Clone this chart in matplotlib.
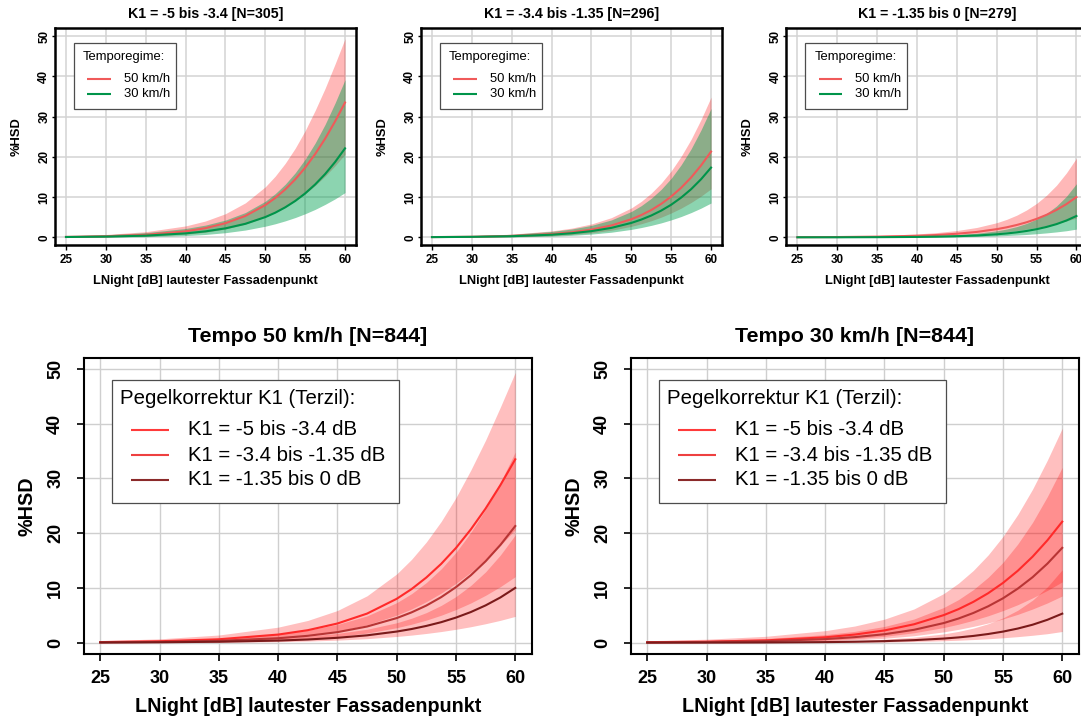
import matplotlib
matplotlib.use("Agg")
import matplotlib.pyplot as plt
from matplotlib.patches import Rectangle

plt.rcParams["font.family"] = ["Liberation Sans", "DejaVu Sans"]

lnight = [25, 30, 35, 40, 42.5, 45, 47.5, 50, 51.25, 52.5, 53.75, 55, 56.25, 57.5, 58.75, 60]

# %HSD, Tempo 50 km/h -- estimate, lower and upper band per K1 tercile
hsd50_a = [0.11, 0.26, 0.62, 1.48, 2.28, 3.50, 5.31, 8.01, 9.78, 11.90, 14.39, 17.30, 20.68, 24.50, 28.79, 33.49]
hsd50_a_lo = [0.03, 0.10, 0.28, 0.77, 1.27, 2.06, 3.26, 5.02, 6.15, 7.49, 9.05, 10.83, 12.87, 15.20, 17.78, 20.66]
hsd50_a_hi = [0.35, 0.70, 1.40, 2.83, 4.06, 5.87, 8.56, 12.55, 15.21, 18.39, 22.13, 26.50, 31.52, 37.00, 43.06, 49.35]

hsd50_b = [0.06, 0.14, 0.34, 0.81, 1.25, 1.92, 2.95, 4.49, 5.53, 6.78, 8.31, 10.14, 12.31, 14.87, 17.86, 21.30]
hsd50_b_lo = [0.02, 0.05, 0.15, 0.41, 0.68, 1.11, 1.76, 2.73, 3.37, 4.12, 5.01, 6.05, 7.25, 8.65, 10.24, 12.06]
hsd50_b_hi = [0.20, 0.40, 0.79, 1.59, 2.28, 3.32, 4.89, 7.30, 8.94, 10.98, 13.47, 16.49, 20.13, 24.36, 29.30, 34.82]

hsd50_c = [0.03, 0.07, 0.17, 0.38, 0.58, 0.89, 1.34, 2.03, 2.49, 3.06, 3.74, 4.58, 5.59, 6.81, 8.26, 10.00]
hsd50_c_lo = [0.01, 0.02, 0.06, 0.18, 0.29, 0.46, 0.73, 1.13, 1.38, 1.68, 2.03, 2.44, 2.91, 3.46, 4.08, 4.80]
hsd50_c_hi = [0.13, 0.24, 0.44, 0.84, 1.18, 1.69, 2.45, 3.63, 4.46, 5.49, 6.80, 8.42, 10.45, 12.94, 16.02, 19.67]

# %HSD, Tempo 30 km/h
hsd30_a = [0.08, 0.18, 0.42, 0.98, 1.48, 2.23, 3.36, 5.03, 6.12, 7.45, 9.03, 10.91, 13.13, 15.71, 18.70, 22.10]
hsd30_a_lo = [0.02, 0.05, 0.15, 0.43, 0.71, 1.15, 1.81, 2.76, 3.37, 4.09, 4.91, 5.86, 6.94, 8.18, 9.55, 11.11]
hsd30_a_hi = [0.35, 0.63, 1.16, 2.19, 3.04, 4.29, 6.16, 8.96, 10.86, 13.19, 16.02, 19.40, 23.41, 28.05, 33.36, 39.17]

hsd30_b = [0.05, 0.12, 0.28, 0.65, 1.01, 1.54, 2.35, 3.58, 4.41, 5.42, 6.64, 8.10, 9.87, 11.96, 14.44, 17.32]
hsd30_b_lo = [0.01, 0.03, 0.10, 0.29, 0.49, 0.80, 1.27, 1.97, 2.43, 2.97, 3.59, 4.33, 5.17, 6.15, 7.26, 8.53]
hsd30_b_hi = [0.21, 0.40, 0.75, 1.46, 2.06, 2.96, 4.32, 6.42, 7.87, 9.69, 11.93, 14.66, 18.02, 21.98, 26.70, 32.02]

hsd30_c = [0.01, 0.01, 0.04, 0.10, 0.17, 0.28, 0.46, 0.75, 0.96, 1.23, 1.58, 2.02, 2.58, 3.28, 4.18, 5.30]
hsd30_c_lo = [0.00, 0.00, 0.01, 0.04, 0.07, 0.12, 0.21, 0.35, 0.45, 0.57, 0.71, 0.89, 1.10, 1.35, 1.64, 2.04]
hsd30_c_hi = [0.03, 0.06, 0.13, 0.28, 0.42, 0.64, 1.00, 1.60, 2.06, 2.66, 3.46, 4.52, 5.93, 7.77, 10.20, 13.32]

k1_titles = ["K1 = -5 bis -3.4 [N=305]", "K1 = -3.4 bis -1.35 [N=296]", "K1 = -1.35 bis 0 [N=279]"]
k1_labels = ["K1 = -5 bis -3.4 dB", "K1 = -3.4 bis -1.35 dB", "K1 = -1.35 bis 0 dB"]
tempo_titles = ["Tempo 50 km/h [N=844]", "Tempo 30 km/h [N=844]"]
tempo_labels = ["50 km/h", "30 km/h"]

xlabel = "LNight [dB] lautester Fassadenpunkt"
ylabel = "%HSD"

tempo50 = [(hsd50_a, hsd50_a_lo, hsd50_a_hi), (hsd50_b, hsd50_b_lo, hsd50_b_hi), (hsd50_c, hsd50_c_lo, hsd50_c_hi)]
tempo30 = [(hsd30_a, hsd30_a_lo, hsd30_a_hi), (hsd30_b, hsd30_b_lo, hsd30_b_hi), (hsd30_c, hsd30_c_lo, hsd30_c_hi)]

RED_LINE = "#f05a5a"
GREEN_LINE = "#00944a"
K1_LINES = ["#ff2a2a", "#b83535", "#7a1a1a"]
K1_LEGEND = ["#ff3a3a", "#ee4040", "#8b2a2a"]


def style_axes(ax, small):
    ax.set_xlim(23.6, 61.4)
    ax.set_ylim(-2, 52)
    ax.set_xticks(range(25, 61, 5))
    ax.set_yticks(range(0, 51, 10))
    ax.set_axisbelow(True)
    if small:
        ax.grid(True, color="#d3d3d3", lw=1.1)
        ax.tick_params(axis="x", labelsize=8.4, length=3.5, width=1.0, pad=3)
        ax.tick_params(axis="y", labelsize=8.4, length=2, width=1.0, pad=1.3, labelrotation=90)
        lab_fs, spine_w = 9.3, 1.8
        xlab_y, ylab_x = -0.164, -0.127
    else:
        ax.grid(True, color="#cfcfcf", lw=1.0)
        ax.tick_params(axis="x", labelsize=13, length=5, width=1.2, pad=6.5)
        ax.tick_params(axis="y", labelsize=13, length=5, width=1.2, pad=9, labelrotation=90)
        lab_fs, spine_w = 14.2, 1.5
        xlab_y, ylab_x = -0.18, -0.127
    for lab in ax.get_xticklabels() + ax.get_yticklabels():
        lab.set_fontweight("bold")
    for lab in ax.get_yticklabels():
        lab.set_va("center")
    for sp in ax.spines.values():
        sp.set_linewidth(spine_w)
        sp.set_color("black")
    ax.set_xlabel(xlabel, fontsize=lab_fs, fontweight="bold")
    ax.set_ylabel(ylabel, fontsize=lab_fs, fontweight="bold")
    ax.xaxis.label.set_va("center")
    ax.yaxis.label.set_va("center")
    ax.xaxis.set_label_coords(0.5, xlab_y)
    ax.yaxis.set_label_coords(ylab_x, 0.5)


def draw_legend(ax, box, title, title_xy, rows_y, line_x, text_x, labels, colors, fs, lw):
    ax.add_patch(Rectangle((box[0], box[1]), box[2], box[3], transform=ax.transAxes,
                           facecolor="white", edgecolor="#4d4d4d", lw=0.9, zorder=5))
    ax.text(title_xy[0], title_xy[1], title, transform=ax.transAxes, fontsize=fs,
            ha="left", va="center", zorder=6)
    for y, lab, col in zip(rows_y, labels, colors):
        ax.plot(line_x, [y, y], transform=ax.transAxes, color=col, lw=lw,
                solid_capstyle="butt", zorder=6)
        ax.text(text_x, y, lab, transform=ax.transAxes, fontsize=fs,
                ha="left", va="center", zorder=6)


fig = plt.figure(figsize=(10.81, 7.2), dpi=100)

# top row: one panel per K1 tercile, 50 vs 30 km/h
top_lefts = [0.0507, 0.3893, 0.7273]
for i in range(3):
    ax = fig.add_axes([top_lefts[i], 0.6592, 0.2788, 0.3019])
    m50, lo50, hi50 = tempo50[i]
    m30, lo30, hi30 = tempo30[i]
    ax.fill_between(lnight, lo50, hi50, color="#ff0000", alpha=0.28, lw=0)
    ax.fill_between(lnight, lo30, hi30, color="#00a050", alpha=0.45, lw=0)
    ax.plot(lnight, m50, color=RED_LINE, lw=1.5, zorder=3)
    ax.plot(lnight, m30, color=GREEN_LINE, lw=1.5, zorder=3)
    style_axes(ax, small=True)
    ax.text(0.5, 1.064, k1_titles[i], transform=ax.transAxes, fontsize=10.2,
            fontweight="bold", ha="center", va="center")
    draw_legend(ax, (0.0636, 0.6288, 0.338, 0.3008), "Temporegime:", (0.0929, 0.8652),
                [0.7654, 0.695], [0.1077, 0.1853], 0.2295, tempo_labels,
                [RED_LINE, GREEN_LINE], 9.4, 1.5)

# bottom row: one panel per speed regime, the three K1 terciles
bottom_lefts = [0.0774, 0.5834]
for j, groups in enumerate([tempo50, tempo30]):
    ax = fig.add_axes([bottom_lefts[j], 0.0922, 0.4146, 0.4106])
    for m, lo, hi in groups:
        ax.fill_between(lnight, lo, hi, color="#ff0000", alpha=0.25, lw=0)
    for (m, lo, hi), col in zip(groups, K1_LINES):
        ax.plot(lnight, m, color=col, lw=1.5, zorder=3)
    style_axes(ax, small=False)
    ax.text(0.5, 1.072, tempo_titles[j], transform=ax.transAxes, fontsize=15.4,
            fontweight="bold", ha="center", va="center")
    draw_legend(ax, (0.0631, 0.5085, 0.6413, 0.4171), "Pegelkorrektur K1 (Terzil):",
                (0.0821, 0.8613), [0.7564, 0.6718, 0.5873], [0.1053, 0.1897], 0.232,
                k1_labels, K1_LEGEND, 14.7, 1.5)

fig.savefig("out.png", dpi=100, facecolor="white")
